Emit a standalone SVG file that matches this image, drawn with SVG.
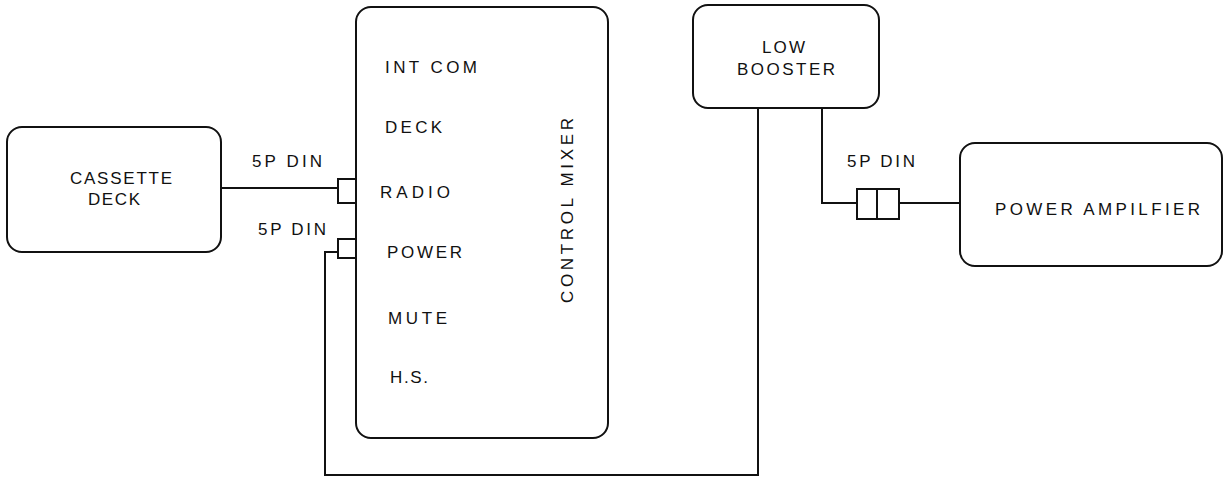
<svg xmlns="http://www.w3.org/2000/svg" width="1227" height="478" viewBox="0 0 1227 478">
<style>
.box{fill:none;stroke:#111;stroke-width:2}
.w{fill:none;stroke:#111;stroke-width:2}
.con{fill:#fff;stroke:#111;stroke-width:2}
text{font-family:"Liberation Sans",Arial,sans-serif;font-size:17px;fill:#111}
</style>
<rect width="1227" height="478" fill="#fff"/>
<g id="connectors">
<polyline class="w" points="221,188 340,188"/>
<polyline class="w" points="340,252 325,252 325,475 758,475 758,108"/>
<polyline class="w" points="822,108 822,203 857,203"/>
<polyline class="w" points="899,203 960,203"/>
<rect class="con" x="338" y="179" width="18" height="24"/>
<rect class="con" x="338" y="239" width="18" height="19"/>
<rect class="con" x="857" y="189" width="20" height="30"/>
<rect class="con" x="877" y="189" width="22" height="30"/>
<text x="252" y="167" textLength="70" lengthAdjust="spacing">5P DIN</text>
<text x="258" y="235" textLength="68" lengthAdjust="spacing">5P DIN</text>
<text x="847" y="167" textLength="68" lengthAdjust="spacing">5P DIN</text>
</g>
<g id="cassette-deck">
<rect class="box" x="7" y="127" width="214" height="125" rx="15"/>
<text x="70" y="184" textLength="102" lengthAdjust="spacing">CASSETTE</text>
<text x="88" y="205" textLength="52" lengthAdjust="spacing">DECK</text>
</g>
<g id="control-mixer">
<rect class="box" x="356" y="7" width="252" height="431" rx="15"/>
<text x="385" y="73" textLength="92" lengthAdjust="spacing">INT COM</text>
<text x="385" y="133" textLength="57" lengthAdjust="spacing">DECK</text>
<text x="380" y="198" textLength="70" lengthAdjust="spacing">RADIO</text>
<text x="387" y="258" textLength="75" lengthAdjust="spacing">POWER</text>
<text x="388" y="324" textLength="59" lengthAdjust="spacing">MUTE</text>
<text x="390" y="383" textLength="38" lengthAdjust="spacing">H.S.</text>
<text transform="translate(573,303) rotate(-90)" x="0" y="0" textLength="185" lengthAdjust="spacing">CONTROL MIXER</text>
</g>
<g id="low-booster">
<rect class="box" x="693" y="5" width="186" height="103" rx="15"/>
<text x="762" y="53" textLength="43" lengthAdjust="spacing">LOW</text>
<text x="737" y="75" textLength="98" lengthAdjust="spacing">BOOSTER</text>
</g>
<g id="power-amplifier">
<rect class="box" x="960" y="143" width="262" height="123" rx="15"/>
<text x="995" y="215" textLength="205" lengthAdjust="spacing">POWER  AMPILFIER</text>
</g>
</svg>
